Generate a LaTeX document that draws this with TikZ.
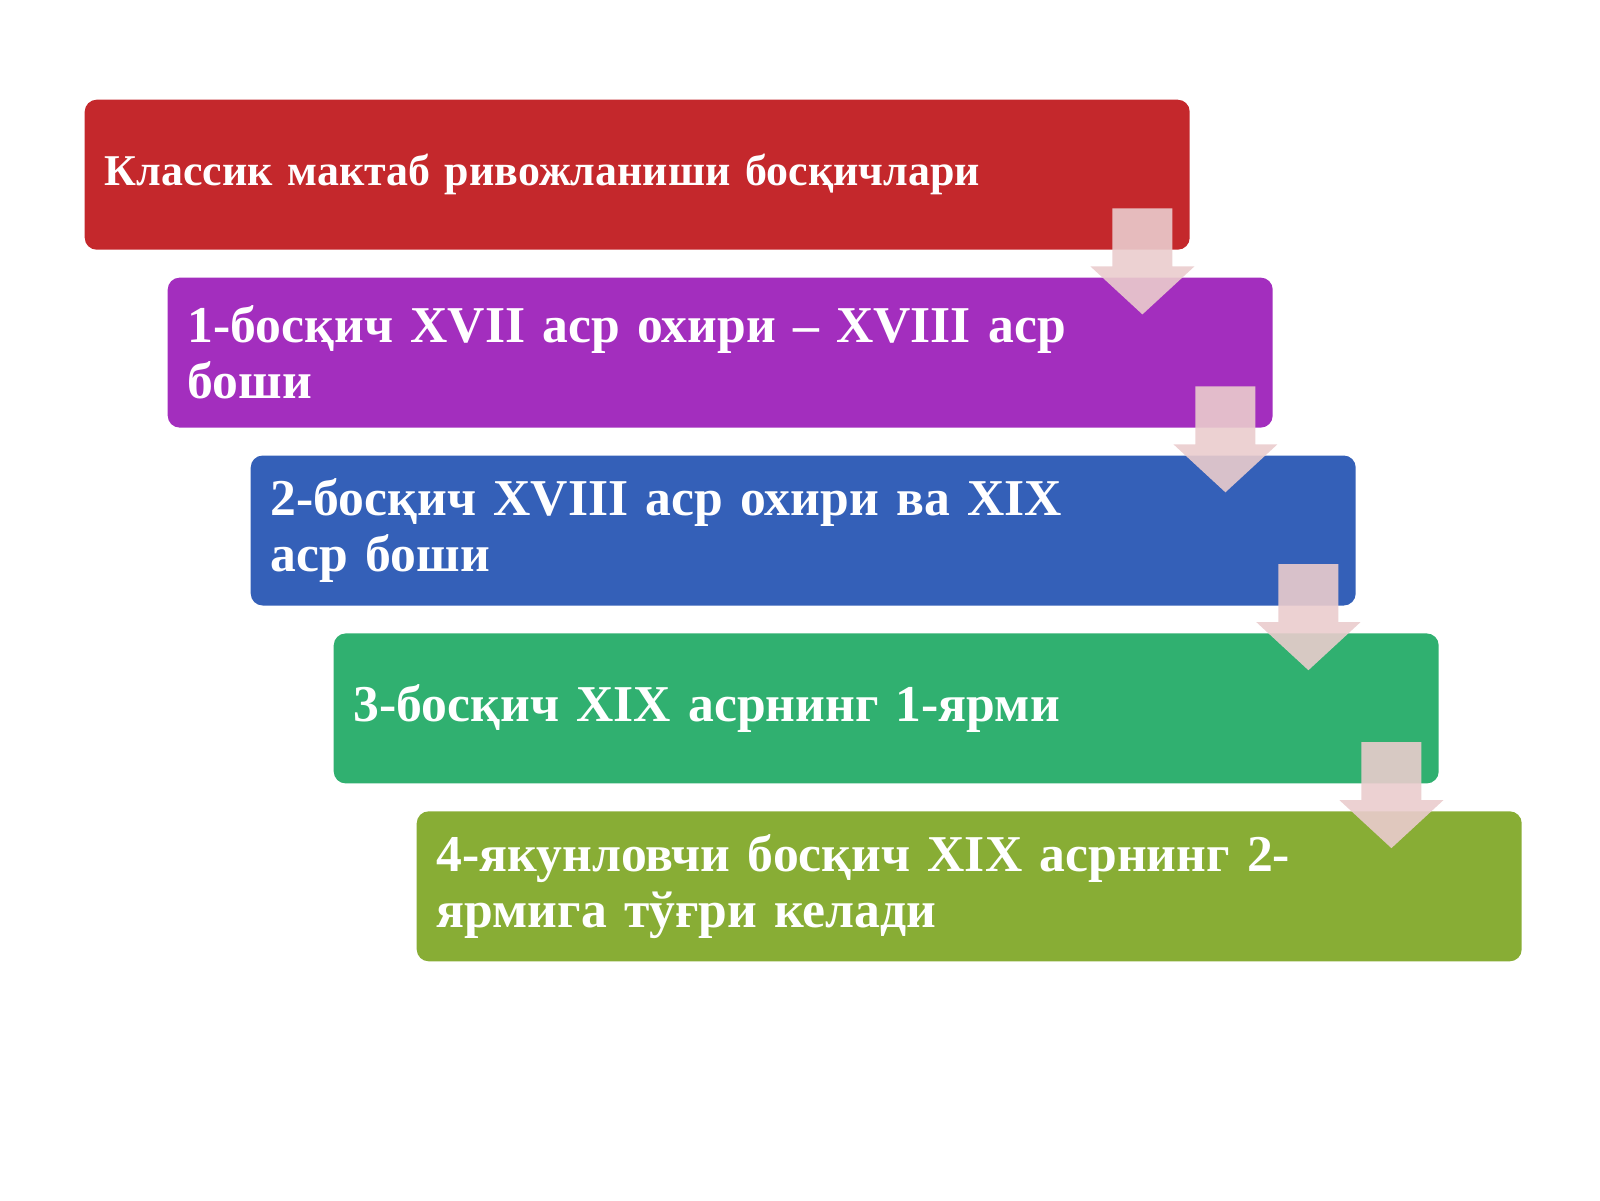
\documentclass[tikz,border=0pt]{standalone}
\usepackage{fontspec}
\setmainfont{Liberation Serif}
\usetikzlibrary{positioning}
\definecolor{stagered}{RGB}{196,40,44}
\definecolor{stagepurple}{RGB}{163,46,190}
\definecolor{stageblue}{RGB}{52,96,184}
\definecolor{stagegreen}{RGB}{48,176,112}
\definecolor{stageolive}{RGB}{136,173,53}
\definecolor{arrowpink}{RGB}{234,204,205}
\tikzset{
    stage/.style={
           rectangle,
           rounded corners=0.12cm,
           text=white,
           font=\bfseries\fontsize{14.7}{16}\selectfont,
           text width=10.65cm,
           inner xsep=0.2cm,
           inner ysep=0pt,
           minimum height=1.5cm,
           align=left},
    % block arrow between stages
    downarrow/.style={
           fill=arrowpink,
           fill opacity=0.9}
}
\begin{document}
\begin{tikzpicture}[node distance=0.265cm and 0.83cm]
	\useasboundingbox (0,0) rectangle (16,12);
	\node[stage, fill=stagered, anchor=north west, font=\bfseries\fontsize{12.5}{15}\selectfont] (title) at (0.84,11.01) {Классик мактаб ривожланиши босқичлари};
	\node[stage, fill=stagepurple, below right=of title.south west] (stageone) {1-босқич XVII аср охири – XVIII аср\\боши};
	\node[stage, fill=stageblue, below right=of stageone.south west] (stagetwo) {2-босқич XVIII аср охири ва XIX\\аср боши};
	\node[stage, fill=stagegreen, below right=of stagetwo.south west] (stagethree) {3-босқич XIX асрнинг 1-ярми};
	\node[stage, fill=stageolive, below right=of stagethree.south west] (stagefour) {4-якунловчи босқич XIX асрнинг 2-\\ярмига тўғри келади};

	\foreach \upper/\lower in {title/stageone, stageone/stagetwo, stagetwo/stagethree, stagethree/stagefour}
		\fill[downarrow] (\upper.south east) ++(-0.78,0.42) -- ++(0.6,0) -- ++(0,-0.58) -- ++(0.22,0) -- ++(-0.52,-0.48) -- ++(-0.52,0.48) -- ++(0.22,0) -- cycle;
\end{tikzpicture}
\end{document}
